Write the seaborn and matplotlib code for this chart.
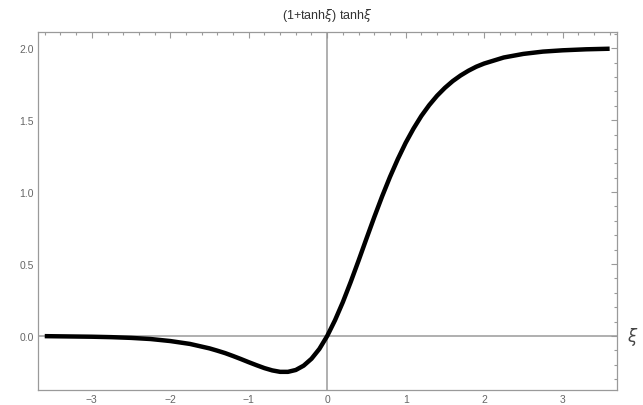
import matplotlib
matplotlib.use("Agg")
import matplotlib.pyplot as plt
import seaborn as sns
from matplotlib.ticker import MultipleLocator, FormatStrFormatter
import matplotlib.transforms as mtransforms

# values
xi = [-3.6, -3.3, -3.0, -2.75, -2.5, -2.25, -2.0, -1.75, -1.5, -1.4, -1.3, -1.2,
      -1.1, -1.0, -0.9, -0.8, -0.7, -0.6, -0.5, -0.4, -0.3, -0.2, -0.1, 0.0,
      0.1, 0.2, 0.3, 0.4, 0.5, 0.6, 0.7, 0.8, 0.9, 1.0, 1.1, 1.2, 1.3, 1.4,
      1.5, 1.6, 1.7, 1.8, 1.9, 2.0, 2.25, 2.5, 2.75, 3.0, 3.3, 3.6]
f_xi = [-0.001, -0.003, -0.005, -0.008, -0.013, -0.021, -0.035, -0.055, -0.086,
        -0.102, -0.119, -0.139, -0.160, -0.182, -0.203, -0.223, -0.239, -0.249,
        -0.249, -0.236, -0.206, -0.158, -0.090, 0.0,
        0.110, 0.236, 0.376, 0.524, 0.676, 0.826, 0.970, 1.105, 1.229, 1.342,
        1.441, 1.529, 1.604, 1.669, 1.724, 1.771, 1.810, 1.843, 1.871, 1.893,
        1.935, 1.960, 1.976, 1.985, 1.992, 1.996]

sns.set_style("white")
plt.rcParams['font.family'] = ['Liberation Sans', 'DejaVu Sans']

fig = plt.figure(figsize=(6.43, 4.06), dpi=100)
ax = fig.add_axes([0.0586, 0.037, 0.9005, 0.882])

grey = "#9a9a9a"
ax.axhline(0, color=grey, lw=1.1, zorder=1)
ax.axvline(0, color=grey, lw=1.1, zorder=1)

sns.lineplot(x=xi, y=f_xi, ax=ax, sort=False, color="black", lw=3.2,
             solid_capstyle="butt", zorder=3)

ax.set_xlim(-3.69, 3.69)
ax.set_ylim(-0.375, 2.113)

ax.xaxis.set_major_locator(MultipleLocator(1))
ax.xaxis.set_minor_locator(MultipleLocator(0.2))
ax.yaxis.set_major_locator(MultipleLocator(0.5))
ax.yaxis.set_minor_locator(MultipleLocator(0.1))
ax.yaxis.set_major_formatter(FormatStrFormatter("%.1f"))

ax.tick_params(which="both", direction="in", top=True, right=True,
               color=grey, width=0.8, labelcolor="#666666", labelsize=7.5)
ax.tick_params(which="major", length=4, pad=3)
ax.tick_params(which="minor", length=2)
for s in ax.spines.values():
    s.set_color(grey)
    s.set_linewidth(0.9)

ax.set_title(r"(1+tanh$\xi$) tanh$\xi$", fontsize=9, color="#333333", pad=10)

trans = mtransforms.blended_transform_factory(ax.transAxes, ax.transData)
ax.text(1.018, 0, r"$\xi$", transform=trans, fontsize=12, color="#444444",
        va="center", ha="left")

fig.savefig("out.png", dpi=100)
